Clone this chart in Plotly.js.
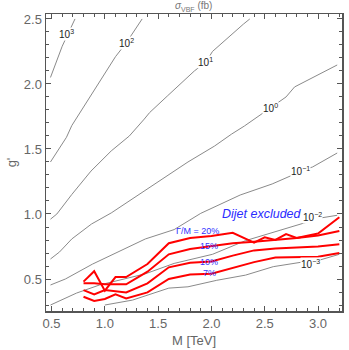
<!DOCTYPE html>
<html><head><meta charset="utf-8">
<script src="https://cdn.plot.ly/plotly-3.0.1.min.js"></script>
<style>html,body{margin:0;padding:0;background:#fff}#chart{width:349px;height:350px}</style>
</head><body><div id="chart"></div>
<script>
// Cross-section contour lines (sigma_VBF in fb)
const c3_M = [0.49, 0.60, 0.72];
const c3_g = [2.05, 2.29, 2.50];
const c2_M = [0.49, 0.64, 0.69, 0.76, 0.91, 1.10, 1.20, 1.35];
const c2_g = [1.40, 1.59, 1.68, 1.77, 1.97, 2.21, 2.315, 2.50];
const c1_M = [0.49, 0.55, 0.69, 0.87, 1.06, 1.23, 1.37, 1.42, 1.59, 1.84, 1.95, 2.01, 2.30, 2.36];
const c1_g = [0.96, 1.00, 1.15, 1.33, 1.485, 1.60, 1.73, 1.78, 1.91, 2.10, 2.17, 2.25, 2.46, 2.50];
const c0_M = [0.49, 0.575, 0.69, 0.875, 1.06, 1.37, 1.59, 1.78, 2.03, 2.19, 2.31, 2.555, 2.70, 2.78, 3.18];
const c0_g = [0.654, 0.708, 0.808, 0.923, 1.008, 1.177, 1.292, 1.40, 1.523, 1.615, 1.677, 1.815, 1.90, 1.977, 2.146];
const cm1_M = [0.49, 0.63, 0.885, 1.13, 1.38, 1.65, 1.90, 2.27, 2.57, 2.74, 2.84, 2.95, 3.18];
const cm1_g = [0.454, 0.50, 0.615, 0.708, 0.808, 0.88, 1.005, 1.146, 1.231, 1.292, 1.33, 1.362, 1.469];
const cm2_M = [0.49, 0.735, 0.95, 1.38, 1.65, 2.01, 2.32, 2.87, 2.93, 3.03, 3.18];
const cm2_g = [0.30, 0.392, 0.454, 0.54, 0.62, 0.69, 0.795, 0.93, 0.95, 0.97, 0.99];
const cm3_M = [1.00, 1.26, 1.60, 1.78, 2.05, 2.32, 2.58, 2.85, 2.93, 3.02, 3.20];
const cm3_g = [0.30, 0.338, 0.43, 0.44, 0.49, 0.53, 0.595, 0.63, 0.625, 0.646, 0.69];

// Dijet exclusion lines for Gamma/M
const w20_M = [0.8, 0.9, 1.0, 1.1, 1.2, 1.4, 1.6, 1.8, 2.0, 2.2, 2.4, 2.5, 2.6, 2.7, 2.8, 3.0, 3.2];
const w20_g = [0.48, 0.56, 0.41, 0.515, 0.515, 0.615, 0.775, 0.815, 0.83, 0.855, 0.78, 0.82, 0.80, 0.845, 0.815, 0.85, 0.975];
const w15_M = [0.8, 0.9, 1.0, 1.2, 1.4, 1.6, 1.8, 2.0, 2.2, 2.4, 2.6, 2.8, 3.0, 3.2];
const w15_g = [0.467, 0.467, 0.459, 0.459, 0.556, 0.69, 0.73, 0.75, 0.775, 0.787, 0.80, 0.815, 0.835, 0.87];
const w10_M = [0.8, 0.9, 1.0, 1.2, 1.4, 1.6, 1.8, 2.0, 2.2, 2.4, 2.6, 2.8, 3.0, 3.2];
const w10_g = [0.415, 0.382, 0.415, 0.397, 0.467, 0.59, 0.625, 0.635, 0.68, 0.72, 0.735, 0.742, 0.75, 0.767];
const w7_M = [0.8, 0.9, 1.0, 1.1, 1.2, 1.4, 1.6, 1.8, 2.0, 2.2, 2.4, 2.6, 2.8, 3.0, 3.2];
const w7_g = [0.364, 0.331, 0.346, 0.382, 0.351, 0.397, 0.50, 0.535, 0.54, 0.585, 0.63, 0.665, 0.668, 0.672, 0.70];

// Contour labels
const lab_text = ['10<sup>3</sup>', '10<sup>2</sup>', '10<sup>1</sup>', '10<sup>0</sup>', '10<sup>−1</sup>', '10<sup>−2</sup>', '10<sup>−3</sup>'];
const lab_M = [0.64, 1.20, 1.945, 2.555, 2.84, 2.95, 2.93];
const lab_g = [2.385, 2.315, 2.17, 1.815, 1.33, 0.977, 0.615];

// Width labels
const wl_text = ['Γ/M = 20%', '15%', '10%', '7%'];
const wl_M = [1.87, 1.98, 1.98, 1.98];
const wl_g = [0.87, 0.754, 0.63, 0.546];

const gray = {color: '#8a8a8a', width: 1};
const red = {color: '#ff0000', width: 2};
const traces = [];
[[c3_M,c3_g],[c2_M,c2_g],[c1_M,c1_g],[c0_M,c0_g],[cm1_M,cm1_g],[cm2_M,cm2_g],[cm3_M,cm3_g]].forEach(p => {
  traces.push({x: p[0], y: p[1], mode: 'lines', line: gray, hoverinfo: 'skip', showlegend: false});
});
[[w20_M,w20_g],[w15_M,w15_g],[w10_M,w10_g],[w7_M,w7_g]].forEach(p => {
  traces.push({x: p[0], y: p[1], mode: 'lines', line: red, hoverinfo: 'skip', showlegend: false});
});

const annotations = [];
lab_text.forEach((t, i) => annotations.push({x: lab_M[i], y: lab_g[i], text: t, showarrow: false,
  font: {family: 'Liberation Sans, Arial, sans-serif', size: 10, color: '#222'}, bgcolor: 'white', borderpad: 0}));
wl_text.forEach((t, i) => annotations.push({x: wl_M[i], y: wl_g[i], text: t, showarrow: false,
  font: {family: 'Liberation Sans, Arial, sans-serif', size: 9, color: '#3333ff'}}));
annotations.push({x: 2.47, y: 1.0, text: '<i>Dijet excluded</i>', showarrow: false,
  font: {family: 'Liberation Sans, Arial, sans-serif', size: 12.5, color: '#2a2aff'}});

const axisCommon = {
  showline: true, linecolor: '#555', linewidth: 1.5, mirror: 'ticks', ticks: 'inside', ticklen: 5,
  tickcolor: '#555', tickwidth: 1, showgrid: false, zeroline: false, dtick: 0.5, tickformat: '.1f',
  tickfont: {family: 'Liberation Sans, Arial, sans-serif', size: 13, color: '#666'},
  minor: {ticks: 'inside', ticklen: 3, dtick: 0.1, tickcolor: '#555', tickwidth: 1, showgrid: false}
};

const layout = {
  width: 349, height: 350,
  margin: {l: 46, r: 7, t: 14, b: 39},
  paper_bgcolor: 'white', plot_bgcolor: 'white',
  showlegend: false,
  title: {text: '<i>σ</i><sub>VBF</sub> (fb)', x: 0.555, xanchor: 'center', y: 0.983, yanchor: 'middle',
    font: {family: 'Liberation Sans, Arial, sans-serif', size: 10, color: '#777'}},
  xaxis: Object.assign({}, axisCommon, {range: [0.448, 3.225], tick0: 0.5,
    title: {text: 'M [TeV]', standoff: 6, font: {family: 'Liberation Sans, Arial, sans-serif', size: 13, color: '#666'}}}),
  yaxis: Object.assign({}, axisCommon, {range: [0.254, 2.538], tick0: 0.5,
    title: {text: "g'", standoff: 4, font: {family: 'Liberation Sans, Arial, sans-serif', size: 13, color: '#666'}}}),
  annotations: annotations
};

Plotly.newPlot('chart', traces, layout, {displayModeBar: false, staticPlot: true});
</script></body></html>
